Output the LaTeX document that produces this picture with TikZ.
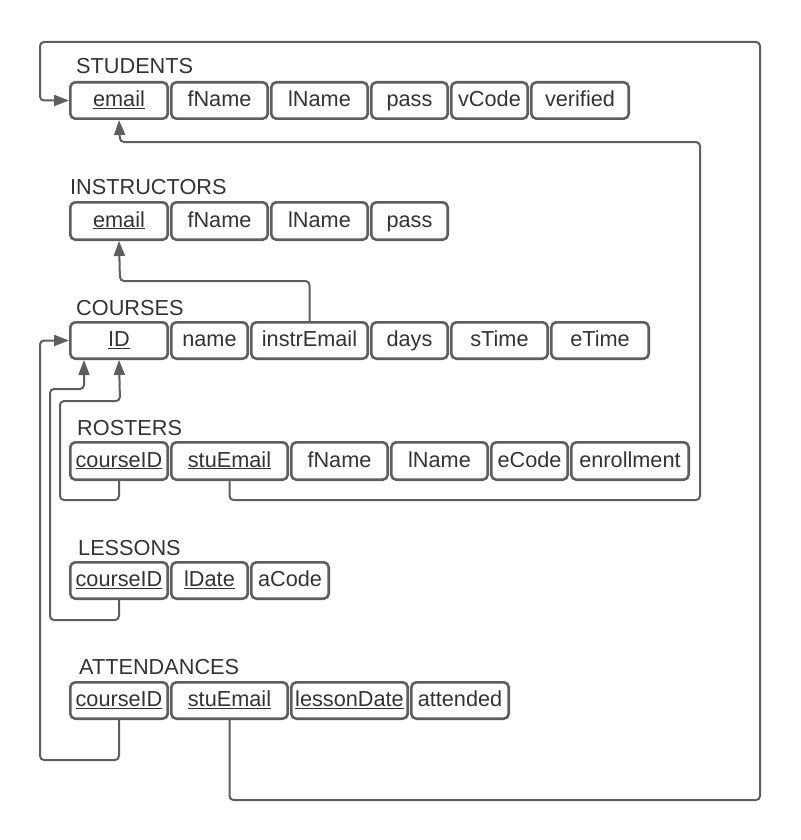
\documentclass[tikz,border=0pt]{standalone}
\usepackage{fontspec}
\setmainfont{Liberation Sans}
\usetikzlibrary{arrows.meta}
\definecolor{ln}{HTML}{5E5E5E}
\definecolor{tx}{HTML}{333333}
\newcommand{\fld}[7]{% name, x1, x2, y1, y2, text
  \pgfmathsetmacro{\fw}{#3-#2-2.6}\pgfmathsetmacro{\fh}{#5-#4-2.6}%
  \pgfmathsetmacro{\fx}{(#2+#3)/2}\pgfmathsetmacro{\fy}{(#4+#5)/2}%
  \node[fld,minimum width=\fw pt,minimum height=\fh pt] (#1) at (\fx,\fy) {#6};}
\begin{document}
\begin{tikzpicture}[x=1pt,y=-1pt,
  fld/.style={draw=ln,line width=2.6pt,rounded corners=5pt,inner sep=0pt,
    text height=16pt,text depth=4pt,text=tx,font=\fontsize{21.7}{24}\selectfont},
  ttl/.style={anchor=base west,inner sep=0pt,text=tx,font=\fontsize{21.7}{24}\selectfont},
  conn/.style={draw=ln,line width=2pt,rounded corners=4pt},
  arr/.style={-{Triangle[length=15pt,width=11pt]}}]
\useasboundingbox (0,0) rectangle (800,840);
% STUDENTS
\node[ttl] (tS) at (76,74) {STUDENTS};
\fld{s1}{69}{169}{81}{120}{\underline{email}}{}
\fld{s2}{170}{269}{81}{120}{fName}{}
\fld{s3}{270}{369}{81}{120}{lName}{}
\fld{s4}{370}{449}{81}{120}{pass}{}
\fld{s5}{450}{529}{81}{120}{vCode}{}
\fld{s6}{530}{630}{81}{120}{verified}{}
% INSTRUCTORS
\node[ttl] (tI) at (70,194) {INSTRUCTORS};
\fld{i1}{69}{169}{201}{241}{\underline{email}}{}
\fld{i2}{170}{269}{201}{241}{fName}{}
\fld{i3}{270}{369}{201}{241}{lName}{}
\fld{i4}{370}{449}{201}{241}{pass}{}
% COURSES
\node[ttl] (tC) at (76,315) {COURSES};
\fld{c1}{69}{169}{321}{360}{\underline{ID}}{}
\fld{c2}{170}{249}{321}{360}{name}{}
\fld{c3}{250}{369}{321}{360}{instrEmail}{}
\fld{c4}{370}{449}{321}{360}{days}{}
\fld{c5}{450}{549}{321}{360}{sTime}{}
\fld{c6}{550}{650}{321}{360}{eTime}{}
% ROSTERS
\node[ttl] (tR) at (77,435) {ROSTERS};
\fld{r1}{69}{169}{441}{481}{\underline{courseID}}{}
\fld{r2}{170}{289}{441}{481}{\underline{stuEmail}}{}
\fld{r3}{290}{389}{441}{481}{fName}{}
\fld{r4}{390}{489}{441}{481}{lName}{}
\fld{r5}{490}{569}{441}{481}{eCode}{}
\fld{r6}{570}{690}{441}{481}{enrollment}{}
% LESSONS
\node[ttl] (tL) at (78,555) {LESSONS};
\fld{l1}{69}{169}{561}{600}{\underline{courseID}}{}
\fld{l2}{170}{249}{561}{600}{\underline{lDate}}{}
\fld{l3}{250}{330}{561}{600}{aCode}{}
% ATTENDANCES
\node[ttl] (tA) at (79,674) {ATTENDANCES};
\fld{a1}{69}{169}{681}{720}{\underline{courseID}}{}
\fld{a2}{170}{289}{681}{720}{\underline{stuEmail}}{}
\fld{a3}{290}{409}{681}{720}{\underline{lessonDate}}{}
\fld{a4}{410}{510}{681}{720}{attended}{}
% connectors
\draw[conn,arr] (a2.south) |- (760,800) |- (40,42) |- (s1.west);
\draw[conn,arr] (r2.south) |- (700,500) |- (120,142) -- (s1.south);
\draw[conn,arr] (c3.north) |- (120,281) -- (i1.south);
\draw[conn,arr] (r1.south) |- (60,500) |- (120,401) -- (c1.south);
\draw[conn,arr] (l1.south) |- (50,620) |- (84,389) -- ([xshift=-35pt]c1.south);
\draw[conn,arr] (a1.south) |- (40,760) |- (c1.west);
\end{tikzpicture}
\end{document}
